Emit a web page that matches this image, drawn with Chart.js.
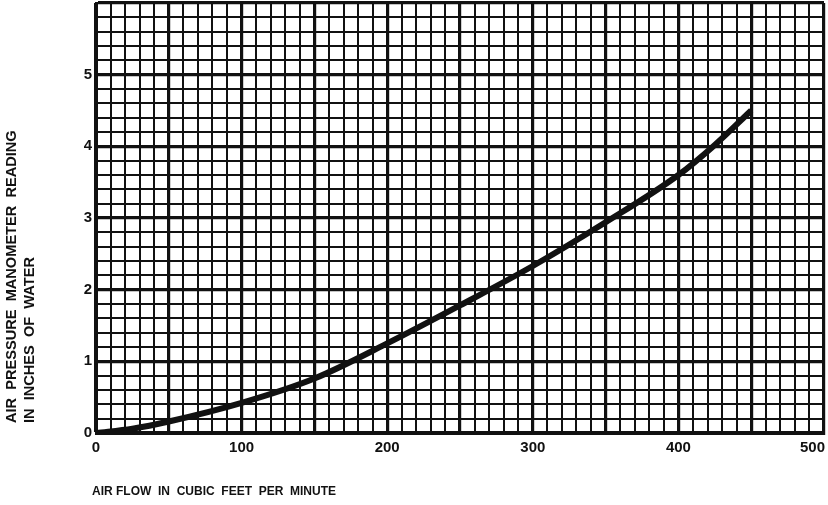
<!DOCTYPE html>
<html>
<head>
<meta charset="utf-8">
<title>Manometer reading vs air flow</title>
<script src="https://cdn.jsdelivr.net/npm/chart.js@4.4.1/dist/chart.umd.min.js"></script>
<style>
  html, body { margin: 0; padding: 0; background: #fff; }
  #wrap { width: 828px; height: 505px; position: relative; }
</style>
</head>
<body>
<div id="wrap"><canvas id="manometerChart"></canvas></div>
<script>
// Air flow (cfm) and the matching manometer reading (inches of water)
const flowCfm = [0, 25, 50, 100, 150, 200, 250, 300, 350, 400, 425, 450];
const pressureInH2O = [0, 0.06, 0.16, 0.42, 0.76, 1.25, 1.78, 2.33, 2.94, 3.6, 4.02, 4.5];

// Labelled ticks
const xTickLabels = [0, 100, 200, 300, 400, 500];
const yTickLabels = [0, 1, 2, 3, 4, 5];

const xTitle = 'AIR FLOW  IN  CUBIC  FEET  PER  MINUTE';
const yTitleLines = ['AIR  PRESSURE  MANOMETER  READING', 'IN  INCHES  OF  WATER'];

const INK = '#111';
const LABEL_FONT = 'bold 15px "Liberation Sans", Arial, sans-serif';
const X_TITLE_FONT = 'bold 12px "Liberation Sans", Arial, sans-serif';
const Y_TITLE_FONT = 'bold 14.6px "Liberation Sans", Arial, sans-serif';

document.addEventListener('DOMContentLoaded', () => {
  initManometerChart();
});

/**
 * Draws axis titles and the x tick labels (the last one is pulled
 * inside the frame so it doesn't run off the canvas)
 */
const axisTextPlugin = {
  id: 'axisText',
  afterDraw(chart) {
    const { ctx, chartArea, scales } = chart;
    ctx.save();
    ctx.fillStyle = INK;

    ctx.font = LABEL_FONT;
    ctx.textBaseline = 'top';
    ctx.textAlign = 'center';
    xTickLabels.forEach((v) => {
      const text = String(v);
      const w = ctx.measureText(text).width;
      let x = scales.x.getPixelForValue(v);
      if (x + w / 2 > chartArea.right + 1) x = chartArea.right + 1 - w / 2;
      ctx.fillText(text, x, chartArea.bottom + 7);
    });

    ctx.font = X_TITLE_FONT;
    ctx.textAlign = 'left';
    ctx.textBaseline = 'middle';
    ctx.fillText(xTitle, 92, 492);

    ctx.font = Y_TITLE_FONT;
    ctx.translate(0, chartArea.bottom - 10);
    ctx.rotate(-Math.PI / 2);
    ctx.fillText(yTitleLines[0], 0, 12);
    ctx.fillText(yTitleLines[1], 0, 30);
    ctx.restore();
  }
};

function initManometerChart() {
  const ctx = document.getElementById('manometerChart');
  if (!ctx) return;

  new Chart(ctx, {
    type: 'line',
    data: {
      datasets: [{
        data: flowCfm.map((x, i) => ({ x, y: pressureInH2O[i] })),
        borderColor: INK,
        borderWidth: 6,
        borderCapStyle: 'butt',
        pointRadius: 0,
        fill: false,
        cubicInterpolationMode: 'monotone'
      }]
    },
    options: {
      responsive: true,
      maintainAspectRatio: false,
      animation: false,
      layout: { padding: { top: 3, right: 4, left: 0, bottom: 0 } },
      plugins: {
        legend: { display: false },
        tooltip: { enabled: false }
      },
      scales: {
        x: {
          type: 'linear',
          min: 0,
          max: 500,
          border: { display: true, color: INK, width: 3 },
          grid: {
            color: INK,
            drawTicks: false,
            lineWidth: (c) => (c.tick && c.tick.value % 50 === 0 ? 3.2 : 2)
          },
          ticks: {
            stepSize: 10,
            autoSkip: false,
            maxRotation: 0,
            display: false
          },
          afterFit: (scale) => {
            scale.height = 72;
            scale.paddingLeft = 0;
            scale.paddingRight = 0;
          }
        },
        y: {
          min: 0,
          max: 6,
          border: { display: true, color: INK, width: 3 },
          grid: {
            color: INK,
            drawTicks: false,
            lineWidth: (c) => {
              if (!c.tick) return 2;
              const v = Math.round(c.tick.value * 10) / 10;
              return Number.isInteger(v) ? 3.2 : 2;
            }
          },
          ticks: {
            stepSize: 0.2,
            autoSkip: false,
            padding: 4,
            color: INK,
            font: { family: '"Liberation Sans", Arial, sans-serif', size: 15, weight: 'bold' },
            callback: function(value) {
              const v = Math.round(value * 10) / 10;
              return yTickLabels.includes(v) ? String(v) : '';
            }
          },
          afterFit: (scale) => {
            scale.width = 96;
            scale.paddingTop = 0;
            scale.paddingBottom = 0;
          }
        }
      }
    },
    plugins: [axisTextPlugin]
  });
}
</script>
</body>
</html>
